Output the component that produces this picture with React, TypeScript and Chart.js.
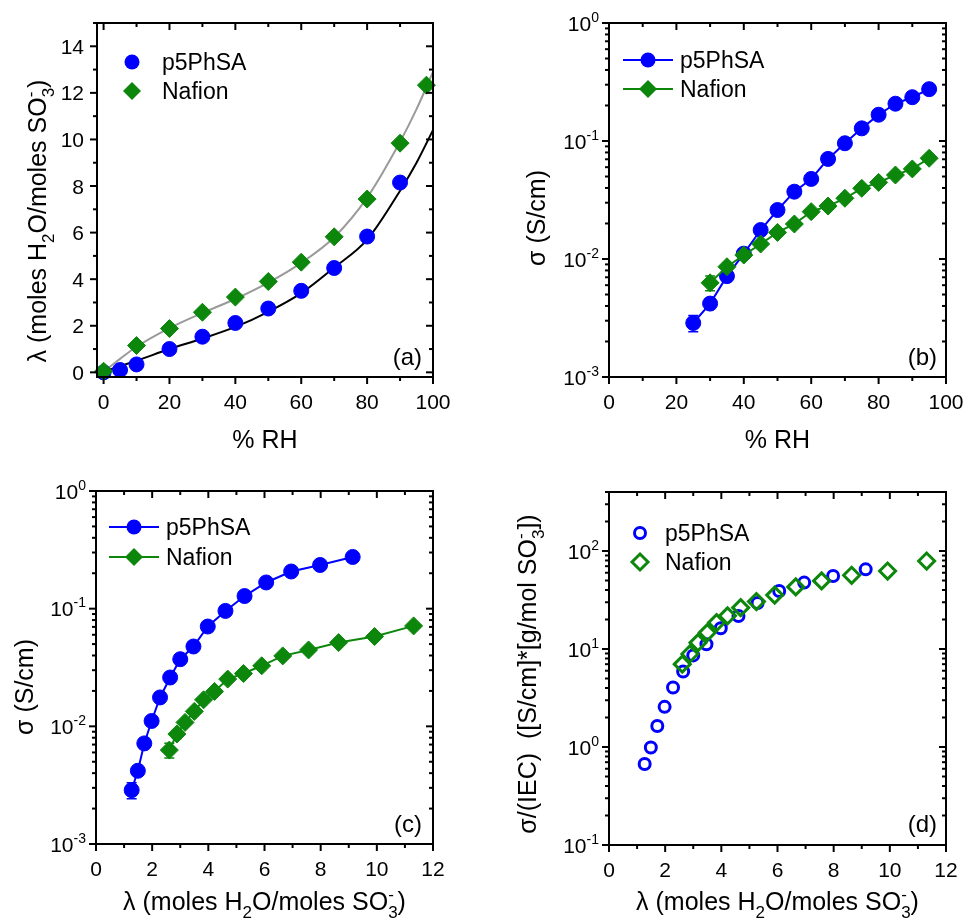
import React, { useEffect, useRef } from "react";
import { Chart, registerables } from "chart.js";
Chart.register(...registerables);

const FONT = '"Liberation Sans", Arial, Helvetica, sans-serif';
const BLUE = "#0000ff";
const GREEN = "#0c870c";
const GRAY = "#9a9a9a";

// ---------- (a) water uptake vs RH ----------
const rhP5A = [0, 5, 10, 20, 30, 40, 50, 60, 70, 80, 90];
const lambdaP5A = [0, 0.1, 0.34, 1.0, 1.53, 2.12, 2.74, 3.5, 4.48, 5.83, 8.15];
const rhNafA = [0, 10, 20, 30, 40, 50, 60, 70, 80, 90, 98];
const lambdaNafA = [0.05, 1.15, 1.88, 2.58, 3.23, 3.9, 4.73, 5.82, 7.44, 9.84, 12.33];
const rhFit = [-2, 0, 5, 10, 20, 30, 40, 50, 60, 70, 80, 90, 95, 100];
const fitP5A = [-0.06, 0.03, 0.27, 0.5, 1.0, 1.45, 1.95, 2.6, 3.4, 4.5, 5.7, 7.8, 9.0, 10.4];
const fitNafA = [-0.06, 0.05, 0.58, 1.1, 1.9, 2.55, 3.15, 3.85, 4.7, 5.8, 7.5, 9.9, 11.3, 12.9];

// ---------- (b) conductivity vs RH ----------
const rhP5B = [25, 30, 35, 40, 45, 50, 55, 60, 65, 70, 75, 80, 85, 90, 95];
const sigmaP5 = [0.00287, 0.00419, 0.00716, 0.0111, 0.0176, 0.026, 0.0372, 0.0477, 0.0705, 0.0957, 0.128, 0.167, 0.207, 0.235, 0.275];
const sigmaP5Err = [0.00045, 0.0004, 0.0005, 0, 0, 0, 0, 0, 0, 0, 0, 0, 0, 0, 0];
const rhNafB = [30, 35, 40, 45, 50, 55, 60, 65, 70, 75, 80, 85, 90, 95];
const sigmaNaf = [0.00628, 0.0086, 0.0108, 0.0134, 0.0168, 0.0198, 0.0252, 0.0281, 0.0327, 0.0397, 0.0446, 0.0515, 0.058, 0.0714];
const sigmaNafErr = [0.0009, 0.0007, 0, 0, 0, 0, 0, 0, 0, 0, 0, 0, 0, 0];

// ---------- (c) conductivity vs lambda, (d) normalized ----------
const lambdaP5 = [1.27, 1.49, 1.72, 1.98, 2.28, 2.64, 3.0, 3.47, 3.98, 4.61, 5.29, 6.06, 6.95, 7.98, 9.14];
const lambdaNaf = [2.61, 2.88, 3.17, 3.5, 3.83, 4.22, 4.69, 5.25, 5.9, 6.65, 7.57, 8.64, 9.92, 11.31];
const normP5 = [0.67, 0.99, 1.64, 2.57, 4.05, 5.9, 8.6, 11.2, 16.3, 21.7, 29.5, 39.1, 47.6, 55.6, 65.0];
const normNaf = [7.0, 8.9, 11.6, 14.7, 18.6, 21.8, 26.4, 30.5, 35.5, 43.0, 49.5, 56.5, 62.5, 79.0];

// ---------- ticks ----------
const rhTicks = [0, 20, 40, 60, 80, 100];
const rhMinor = [10, 30, 50, 70, 90];
const lambdaTicksA = [0, 2, 4, 6, 8, 10, 12, 14];
const lambdaMinorA = [1, 3, 5, 7, 9, 11, 13, 15];
const lamTicks = [0, 2, 4, 6, 8, 10, 12];
const lamMinor = [1, 3, 5, 7, 9, 11];
const sigmaDecades = [0.001, 0.01, 0.1, 1];
const sigmaExps = ["-3", "-2", "-1", "0"];
const normDecades = [0.1, 1, 10, 100];
const normExps = ["-1", "0", "1", "2"];

const seriesNames = ["p5PhSA", "Nafion"];
const panelLabels = ["(a)", "(b)", "(c)", "(d)"];

type Seg = { t?: string; sub?: string; sup?: string };
const rhTitle: Seg[] = [{ t: "% RH" }];
const lambdaTitle: Seg[] = [{ t: "λ (moles H" }, { sub: "2" }, { t: "O/moles SO" }, { sub: "3", sup: "-" }, { t: ")" }];
const sigmaTitle: Seg[] = [{ t: "σ (S/cm)" }];
const normTitle: Seg[] = [{ t: "σ/(IEC)  ([S/cm]*[g/mol SO" }, { sub: "3", sup: "-" }, { t: "])" }];

function logMinor(min: number, max: number) {
  const out: number[] = [];
  for (let e = Math.floor(Math.log10(min)); e <= Math.ceil(Math.log10(max)); e++) {
    for (let k = 2; k <= 9; k++) {
      const v = k * Math.pow(10, e);
      if (v > min && v <= max * 1.0001) out.push(v);
    }
  }
  return out;
}

const pts = (xs: number[], ys: number[]) => xs.map((x, i) => ({ x, y: ys[i] }));

function richWidth(ctx: CanvasRenderingContext2D, segs: Seg[], size: number, small: number) {
  let w = 0;
  for (const s of segs) {
    if (s.t !== undefined) {
      ctx.font = `${size}px ${FONT}`;
      w += ctx.measureText(s.t).width;
    } else {
      ctx.font = `${small}px ${FONT}`;
      w += Math.max(s.sub ? ctx.measureText(s.sub).width : 0, s.sup ? ctx.measureText(s.sup).width : 0);
    }
  }
  return w;
}

function drawRich(ctx: CanvasRenderingContext2D, segs: Seg[], x: number, y: number, size: number, small: number, align: string, rot: boolean) {
  ctx.save();
  ctx.translate(x, y);
  if (rot) ctx.rotate(-Math.PI / 2);
  const total = richWidth(ctx, segs, size, small);
  let cx = align === "center" ? -total / 2 : align === "right" ? -total : 0;
  ctx.textAlign = "left";
  ctx.textBaseline = "alphabetic";
  ctx.fillStyle = "#000";
  for (const s of segs) {
    if (s.t !== undefined) {
      ctx.font = `${size}px ${FONT}`;
      ctx.fillText(s.t, cx, 0);
      cx += ctx.measureText(s.t).width;
    } else {
      ctx.font = `${small}px ${FONT}`;
      let w = 0;
      if (s.sub) {
        ctx.fillText(s.sub, cx, size * 0.3);
        w = Math.max(w, ctx.measureText(s.sub).width);
      }
      if (s.sup) {
        ctx.fillText(s.sup, cx, -size * 0.42);
        w = Math.max(w, ctx.measureText(s.sup).width);
      }
      cx += w;
    }
  }
  ctx.restore();
}

function drawMarker(ctx: CanvasRenderingContext2D, style: string, x: number, y: number, r: number, color: string, filled: boolean, bw: number) {
  ctx.beginPath();
  if (style === "circle") ctx.arc(x, y, r, 0, Math.PI * 2);
  else {
    ctx.moveTo(x, y - r);
    ctx.lineTo(x + r, y);
    ctx.lineTo(x, y + r);
    ctx.lineTo(x - r, y);
    ctx.closePath();
  }
  if (filled) {
    ctx.fillStyle = color;
    ctx.fill();
  } else {
    ctx.strokeStyle = color;
    ctx.lineWidth = bw;
    ctx.stroke();
  }
}

type Axis = { type: "linear" | "logarithmic"; min: number; max: number; major: number[]; minor: number[]; labels?: string[]; exps?: string[] };
type LegendSpec = { mx: number; tx: number; ys: number[]; line: boolean; filled: boolean; r: number[]; styles: string[] };
type PanelCfg = {
  box: { l: number; t: number; w: number; h: number };
  area: { l: number; r: number; t: number; b: number };
  x: Axis;
  y: Axis;
  datasets: any[];
  xTitle: Seg[];
  xTitleBase: number;
  yTitle: Seg[];
  yTitleX: number;
  yTitleCY: number;
  legend: LegendSpec;
  label: string;
  labelRight: number;
  labelBase: number;
};

const MAJ = 7;
const MIN = 4;
const TICK_FONT = 21;

function decorPlugin(p: PanelCfg) {
  return {
    id: "decor",
    beforeDatasetsDraw(chart: any) {
      const ctx = chart.ctx as CanvasRenderingContext2D;
      const xs = chart.scales.x;
      const ys = chart.scales.y;
      ctx.save();
      chart.data.datasets.forEach((ds: any) => {
        if (!ds.errs) return;
        ctx.strokeStyle = ds.borderColor;
        ctx.lineWidth = 1.5;
        ds.data.forEach((d: any, i: number) => {
          const e = ds.errs[i];
          if (!e) return;
          const px = xs.getPixelForValue(d.x);
          const y1 = ys.getPixelForValue(d.y + e);
          const y2 = ys.getPixelForValue(Math.max(d.y - e, 1e-9));
          ctx.beginPath();
          ctx.moveTo(px, y1);
          ctx.lineTo(px, y2);
          ctx.moveTo(px - 5, y1);
          ctx.lineTo(px + 5, y1);
          ctx.moveTo(px - 5, y2);
          ctx.lineTo(px + 5, y2);
          ctx.stroke();
        });
      });
      ctx.restore();
    },
    afterDraw(chart: any) {
      const ctx = chart.ctx as CanvasRenderingContext2D;
      const { left, right, top, bottom } = chart.chartArea;
      const xs = chart.scales.x;
      const ys = chart.scales.y;
      ctx.save();
      ctx.strokeStyle = "#000";
      ctx.lineWidth = 2;
      ctx.lineCap = "butt";
      const seg = (x1: number, y1: number, x2: number, y2: number) => {
        ctx.beginPath();
        ctx.moveTo(x1, y1);
        ctx.lineTo(x2, y2);
        ctx.stroke();
      };
      p.x.major.forEach((v) => {
        const px = xs.getPixelForValue(v);
        seg(px, bottom, px, bottom + MAJ);
        seg(px, top, px, top + MAJ);
      });
      p.x.minor.forEach((v) => {
        const px = xs.getPixelForValue(v);
        seg(px, bottom, px, bottom + MIN);
        seg(px, top, px, top + MIN);
      });
      p.y.major.forEach((v) => {
        const py = ys.getPixelForValue(v);
        seg(left, py, left - MAJ, py);
        seg(right, py, right - MAJ, py);
      });
      p.y.minor.forEach((v) => {
        const py = ys.getPixelForValue(v);
        seg(left, py, left - MIN, py);
        seg(right, py, right - MIN, py);
      });
      ctx.lineJoin = "miter";
      ctx.strokeRect(left, top, right - left, bottom - top);

      // tick labels
      ctx.fillStyle = "#000";
      ctx.font = `${TICK_FONT}px ${FONT}`;
      ctx.textAlign = "center";
      ctx.textBaseline = "alphabetic";
      p.x.major.forEach((v, i) => {
        const px = xs.getPixelForValue(v);
        ctx.fillText(p.x.labels ? p.x.labels[i] : String(v), px, bottom + 31.5);
      });
      p.y.major.forEach((v, i) => {
        const py = ys.getPixelForValue(v);
        if (p.y.exps) {
          drawRich(ctx, [{ t: "10" }, { sup: p.y.exps[i] }], left - 10, py + 7.5, TICK_FONT, 14, "right", false);
        } else {
          ctx.font = `${TICK_FONT}px ${FONT}`;
          ctx.textAlign = "right";
          ctx.fillText(p.y.labels ? p.y.labels[i] : String(v), left - 13, py + 7.5);
        }
      });

      // page-coordinate decorations
      ctx.translate(-p.box.l, -p.box.t);
      const cxPlot = p.area.l + (p.area.r - p.area.l) / 2;
      drawRich(ctx, p.xTitle, cxPlot, p.xTitleBase, 25, 17, "center", false);
      drawRich(ctx, p.yTitle, p.yTitleX, p.yTitleCY, 25, 17, "center", true);

      // legend
      const lg = p.legend;
      const colors = [BLUE, GREEN];
      lg.ys.forEach((ly, i) => {
        if (lg.line) {
          ctx.strokeStyle = colors[i];
          ctx.lineWidth = 2;
          seg(lg.mx - 25, ly, lg.mx + 25, ly);
        }
        drawMarker(ctx, lg.styles[i], lg.mx, ly, lg.r[i], colors[i], lg.filled, 3);
        ctx.fillStyle = "#000";
        ctx.font = `23px ${FONT}`;
        ctx.textAlign = "left";
        ctx.textBaseline = "alphabetic";
        ctx.fillText(seriesNames[i], lg.tx, ly + 8.3);
      });

      ctx.fillStyle = "#000";
      ctx.font = `24px ${FONT}`;
      ctx.textAlign = "right";
      ctx.fillText(p.label, p.labelRight, p.labelBase);
      ctx.restore();
    },
  };
}

function filledSet(data: any[], color: string, style: string, r: number, line: boolean, order: number, errs?: number[]) {
  return {
    data,
    showLine: line,
    borderColor: color,
    backgroundColor: color,
    borderWidth: 2,
    pointStyle: style,
    pointRadius: r,
    pointBackgroundColor: color,
    pointBorderColor: color,
    pointBorderWidth: 1,
    clip: false,
    order,
    errs,
  };
}
function openSet(data: any[], color: string, style: string, r: number, order: number) {
  return {
    data,
    showLine: false,
    borderColor: color,
    backgroundColor: "rgba(0,0,0,0)",
    pointStyle: style,
    pointRadius: r,
    pointBackgroundColor: "rgba(0,0,0,0)",
    pointBorderColor: color,
    pointBorderWidth: 3,
    clip: false,
    order,
  };
}
function fitSet(data: any[], color: string, order: number) {
  return {
    data,
    showLine: true,
    borderColor: color,
    borderWidth: 2,
    pointRadius: 0,
    cubicInterpolationMode: "monotone",
    clip: false,
    order,
  };
}

const sigmaMinor = logMinor(0.001, 1);
const normMinor = logMinor(0.1, 400);

const panels: PanelCfg[] = [
  {
    box: { l: 0, t: 0, w: 483, h: 460 },
    area: { l: 97, r: 433, t: 23, b: 377 },
    x: { type: "linear", min: -2, max: 100, major: rhTicks, minor: rhMinor },
    y: { type: "linear", min: -0.2, max: 15, major: lambdaTicksA, minor: lambdaMinorA },
    datasets: [
      fitSet(pts(rhFit, fitP5A), "#000", 4),
      fitSet(pts(rhFit, fitNafA), GRAY, 3),
      filledSet(pts(rhP5A, lambdaP5A), BLUE, "circle", 7.5, false, 2),
      filledSet(pts(rhNafA, lambdaNafA), GREEN, "rectRot", 9, false, 1),
    ],
    xTitle: rhTitle,
    xTitleBase: 448,
    yTitle: lambdaTitle,
    yTitleX: 46,
    yTitleCY: 221,
    legend: { mx: 132, tx: 162, ys: [62, 91], line: false, filled: true, r: [7.5, 9], styles: ["circle", "diamond"] },
    label: panelLabels[0],
    labelRight: 422,
    labelBase: 365,
  },
  {
    box: { l: 483, t: 0, w: 484, h: 460 },
    area: { l: 609, r: 946, t: 23, b: 377 },
    x: { type: "linear", min: 0, max: 100, major: rhTicks, minor: rhMinor },
    y: { type: "logarithmic", min: 0.001, max: 1, major: sigmaDecades, minor: sigmaMinor, exps: sigmaExps },
    datasets: [
      filledSet(pts(rhP5B, sigmaP5), BLUE, "circle", 7.5, true, 2, sigmaP5Err),
      filledSet(pts(rhNafB, sigmaNaf), GREEN, "rectRot", 9, true, 1, sigmaNafErr),
    ],
    xTitle: rhTitle,
    xTitleBase: 448,
    yTitle: sigmaTitle,
    yTitleX: 545,
    yTitleCY: 218,
    legend: { mx: 648, tx: 680, ys: [60, 89], line: true, filled: true, r: [7.5, 9], styles: ["circle", "diamond"] },
    label: panelLabels[1],
    labelRight: 937,
    labelBase: 365,
  },
  {
    box: { l: 0, t: 460, w: 483, h: 460 },
    area: { l: 96, r: 433, t: 491, b: 844 },
    x: { type: "linear", min: 0, max: 12, major: lamTicks, minor: lamMinor },
    y: { type: "logarithmic", min: 0.001, max: 1, major: sigmaDecades, minor: sigmaMinor, exps: sigmaExps },
    datasets: [
      filledSet(pts(lambdaP5, sigmaP5), BLUE, "circle", 7.5, true, 2, sigmaP5Err),
      filledSet(pts(lambdaNaf, sigmaNaf), GREEN, "rectRot", 9, true, 1, sigmaNafErr),
    ],
    xTitle: lambdaTitle,
    xTitleBase: 910,
    yTitle: sigmaTitle,
    yTitleX: 33,
    yTitleCY: 687,
    legend: { mx: 134, tx: 166, ys: [527, 557], line: true, filled: true, r: [7.5, 9], styles: ["circle", "diamond"] },
    label: panelLabels[2],
    labelRight: 422,
    labelBase: 832,
  },
  {
    box: { l: 483, t: 460, w: 484, h: 460 },
    area: { l: 609, r: 946, t: 492, b: 845 },
    x: { type: "linear", min: 0, max: 12, major: lamTicks, minor: lamMinor },
    y: { type: "logarithmic", min: 0.1, max: 400, major: normDecades, minor: normMinor, exps: normExps },
    datasets: [
      openSet(pts(lambdaP5, normP5), BLUE, "circle", 5.5, 2),
      openSet(pts(lambdaNaf, normNaf), GREEN, "rectRot", 8, 1),
    ],
    xTitle: lambdaTitle,
    xTitleBase: 910,
    yTitle: normTitle,
    yTitleX: 536,
    yTitleCY: 674,
    legend: { mx: 640, tx: 665, ys: [533, 562], line: false, filled: false, r: [5.5, 8], styles: ["circle", "diamond"] },
    label: panelLabels[3],
    labelRight: 937,
    labelBase: 832,
  },
];

function Panel({ cfg }: { cfg: PanelCfg }) {
  const ref = useRef<HTMLCanvasElement>(null);
  useEffect(() => {
    const { box, area } = cfg;
    const chart = new Chart(ref.current as HTMLCanvasElement, {
      type: "scatter",
      data: { datasets: cfg.datasets },
      options: {
        animation: false,
        responsive: false,
        events: [],
        layout: {
          autoPadding: false,
          padding: { left: area.l - box.l, right: box.l + box.w - area.r, top: area.t - box.t, bottom: box.t + box.h - area.b },
        },
        plugins: { legend: { display: false }, tooltip: { enabled: false }, title: { display: false } },
        scales: {
          x: { type: cfg.x.type, min: cfg.x.min, max: cfg.x.max, display: false },
          y: { type: cfg.y.type, min: cfg.y.min, max: cfg.y.max, display: false },
        },
      } as any,
      plugins: [decorPlugin(cfg)],
    });
    return () => chart.destroy();
  }, [cfg]);
  return (
    <canvas
      ref={ref}
      width={cfg.box.w}
      height={cfg.box.h}
      style={{ position: "absolute", left: cfg.box.l, top: cfg.box.t, width: cfg.box.w, height: cfg.box.h, display: "block" }}
    />
  );
}

export default function App() {
  return (
    <div style={{ position: "absolute", left: 0, top: 0, width: 967, height: 920, background: "#fff", overflow: "hidden" }}>
      {panels.map((p, i) => (
        <Panel key={i} cfg={p} />
      ))}
    </div>
  );
}
